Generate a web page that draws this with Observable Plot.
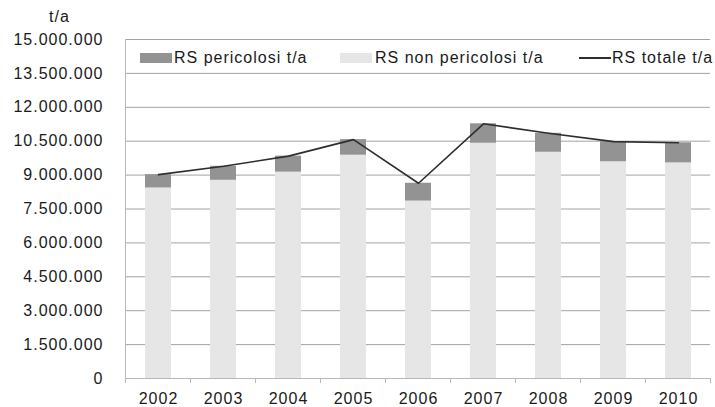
<!DOCTYPE html>
<html>
<head>
<meta charset="utf-8">
<script src="https://cdn.jsdelivr.net/npm/d3@7"></script>
<script src="https://cdn.jsdelivr.net/npm/@observablehq/plot@0.6"></script>
<style>
  body { margin: 0; background: #fff; }
  #wrap { position: relative; width: 715px; height: 407px; font-family: "Liberation Sans", Arial, sans-serif; font-size: 16px; letter-spacing: 1px; color: #1a1a1a; }
  #wrap svg { position: absolute; left: 0; top: 0; }
  .ov { position: absolute; white-space: nowrap; line-height: 16px; }
  .sw { position: absolute; }
</style>
</head>
<body>
<div id="wrap"></div>
<script>
const years = ["2002", "2003", "2004", "2005", "2006", "2007", "2008", "2009", "2010"];
const nonPericolosi = [8430000, 8770000, 9130000, 9880000, 7850000, 10410000, 10010000, 9590000, 9540000];
const pericolosi = [590000, 620000, 710000, 690000, 790000, 860000, 840000, 890000, 890000];
const yTicks = [0, 1500000, 3000000, 4500000, 6000000, 7500000, 9000000, 10500000, 12000000, 13500000, 15000000];
const seriesNames = ["RS pericolosi t/a", "RS non pericolosi t/a", "RS totale t/a"];
const seriesColors = ["#939393", "#e6e6e6", "#2e2e2e"];
const unitLabel = "t/a";

const rows = [];
years.forEach((yr, i) => rows.push({year: yr, series: seriesNames[1], value: nonPericolosi[i]}));
years.forEach((yr, i) => rows.push({year: yr, series: seriesNames[0], value: pericolosi[i]}));
const totals = years.map((yr, i) => ({year: yr, total: nonPericolosi[i] + pericolosi[i]}));

const itFmt = d3.formatLocale({decimal: ",", thousands: ".", grouping: [3], currency: ["", "€"]}).format(",d");

const frameLines = (index, scales, values, dims) => {
  const g = d3.create("svg:g");
  const left = dims.marginLeft, right = dims.width - dims.marginRight;
  const top = dims.marginTop, bottom = dims.height - dims.marginBottom;
  g.append("line").attr("x1", left + 0.5).attr("x2", left + 0.5).attr("y1", top).attr("y2", bottom)
    .attr("stroke", "#b8b8b8").attr("stroke-width", 1);
  g.append("line").attr("x1", left).attr("x2", right).attr("y1", bottom + 0.5).attr("y2", bottom + 0.5)
    .attr("stroke", "#b8b8b8").attr("stroke-width", 1);
  const step = (right - left) / years.length;
  for (let k = 0; k <= years.length; k++) {
    const xx = Math.round(left + k * step) + 0.5;
    g.append("line").attr("x1", xx).attr("x2", xx).attr("y1", bottom).attr("y2", bottom + 5)
      .attr("stroke", "#b8b8b8").attr("stroke-width", 1);
  }
  return g.node();
};

const chart = Plot.plot({
  width: 715,
  height: 407,
  marginLeft: 125,
  marginRight: 5,
  marginTop: 39,
  marginBottom: 29,
  style: {fontFamily: "Liberation Sans, Arial, sans-serif", fontSize: "16px", letterSpacing: "1px", color: "#1a1a1a", background: "transparent"},
  x: {domain: years, paddingInner: 0.6, paddingOuter: 0.3, label: null},
  y: {domain: [0, 15000000], label: null},
  color: {domain: seriesNames.slice(0, 2), range: seriesColors.slice(0, 2)},
  marks: [
    Plot.ruleY(yTicks.filter(d => d > 0), {stroke: "#a3a3a3", strokeWidth: 1, strokeOpacity: 1}),
    Plot.barY(rows, {x: "year", y: "value", fill: "series", order: null}),
    Plot.line(totals, {x: "year", y: "total", stroke: seriesColors[2], strokeWidth: 1.6}),
    frameLines,
    Plot.axisY(yTicks, {tickSize: 0, tickPadding: 22, tickFormat: itFmt, fill: "#1a1a1a", label: null}),
    Plot.axisX({tickSize: 0, tickPadding: 14, fill: "#1a1a1a", label: null})
  ]
});

const wrap = document.getElementById("wrap");
wrap.appendChild(chart);

function addText(txt, left, top) {
  const d = document.createElement("div");
  d.className = "ov"; d.textContent = txt;
  d.style.left = left + "px"; d.style.top = top + "px";
  wrap.appendChild(d);
  return d;
}
function addSwatch(left, top, w, h, color) {
  const s = document.createElement("div");
  s.className = "sw";
  s.style.left = left + "px"; s.style.top = top + "px";
  s.style.width = w + "px"; s.style.height = h + "px";
  s.style.background = color;
  wrap.appendChild(s);
}

addText(unitLabel, 49, 9);
// legend
addSwatch(140, 53, 32, 10, seriesColors[0]);
addText(seriesNames[0], 174, 50);
addSwatch(340, 53, 32, 10, seriesColors[1]);
addText(seriesNames[1], 375, 50);
addSwatch(579, 57, 32, 2, seriesColors[2]);
addText(seriesNames[2], 612, 50);
</script>
</body>
</html>
